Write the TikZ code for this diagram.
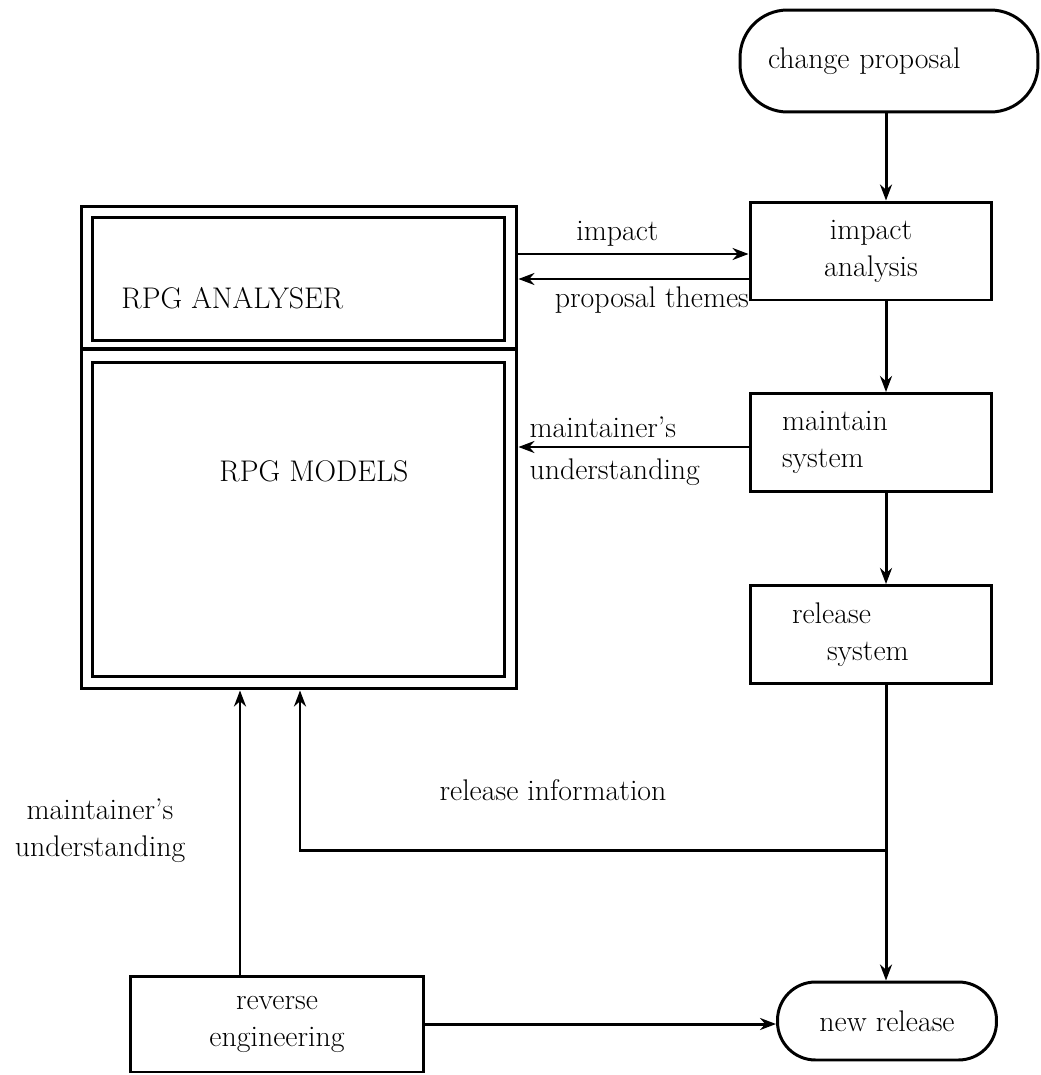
\documentclass[tikz,border=0pt]{standalone}
\usepackage{tikz}
\usetikzlibrary{arrows.meta,positioning,calc}

\begin{document}
\begin{tikzpicture}[x=0.02cm,y=-0.02cm,>={Stealth[length=3.2mm,width=2.4mm]},line width=1.7pt,
  every node/.style={font=\fontsize{17pt}{21pt}\selectfont},
  box/.style={draw,rectangle,minimum width=4.84cm,minimum height=1.96cm,align=center},
  term/.style={draw,rectangle,rounded corners=0.95cm,minimum height=2.04cm},
  frame/.style={draw,rectangle,minimum width=8.72cm},
  panel/.style={draw,rectangle,minimum width=8.26cm},
  tag/.style={inner sep=0pt}]

  \useasboundingbox (0,0) rectangle (1041,1075);

  % process column
  \node[term,minimum width=5.96cm,inner xsep=0.56cm,text width=4.84cm,align=left] (cp) at (889,61) {change proposal};
  \node[box] (ia) at (871,251) {impact\\analysis};
  \node[box,inner xsep=0.64cm,text width=3.56cm,align=left] (ms) at (871,442.5) {maintain\\system};
  \node[box,inner xsep=0.84cm,text width=3.16cm,align=left] (rs) at (871,634.5) {release\\\hspace*{0.7cm}system};
  \node[term,minimum width=4.38cm,minimum height=1.56cm,rounded corners=0.76cm] (nr) at (887,1021) {new release};

  % RPG tool
  \node[frame,minimum height=2.86cm] (top) at (299,277.5) {};
  \node[frame,minimum height=6.8cm] (bot) at (299,519) {};
  \node[panel,minimum height=2.48cm] (ana) at (298.5,279) {};
  \node[panel,minimum height=6.3cm] (mod) at (298.5,519.5) {};
  \node[tag,anchor=west] (anatxt) at (120,298) {RPG ANALYSER};
  \node[tag,anchor=west] (modtxt) at (218,471) {RPG MODELS};

  \node[box,minimum width=5.88cm,minimum height=1.92cm] (re) at (277,1024) {reverse\\engineering};

  \coordinate (spine) at (886,0);
  \coordinate (imp) at (0,254);
  \coordinate (thm) at (0,279);
  \coordinate (tap) at (886,850);
  \coordinate (bend) at (300,850);
  \coordinate (rev) at (240,0);

  \draw[->] (cp.south -| spine) -- (ia.north -| spine);
  \draw[->] (ia.south -| spine) -- (ms.north -| spine);
  \draw[->] (ms.south -| spine) -- (rs.north -| spine);
  \draw[->] (rs.south -| spine) -- (nr.north -| spine);

  \draw[->] (top.east |- imp) -- node[above,pos=0.43] {impact} (ia.west |- imp);
  \draw[->] (ia.west |- thm) -- node[below,pos=0.42] {proposal themes} (top.east |- thm);
  \draw[->] (ms.west |- 0,447) -- (bot.east |- 0,447);
  \node[tag,anchor=west] (mu1) at (528,427) {maintainer's};
  \node[tag,anchor=west] (mu2) at (528,472) {understanding};

  \draw[->] (tap) -- (bend) -- (bend |- bot.south);
  \node[tag] (relinfo) at (553,790) {release information};

  \draw[->] (re.north -| rev) -- (bot.south -| rev);
  \node[tag,align=center] (mu3) at (100,831) {maintainer's\\understanding};
  \draw[->] (re.east) -- (nr.west |- re.east);

\end{tikzpicture}
\end{document}
